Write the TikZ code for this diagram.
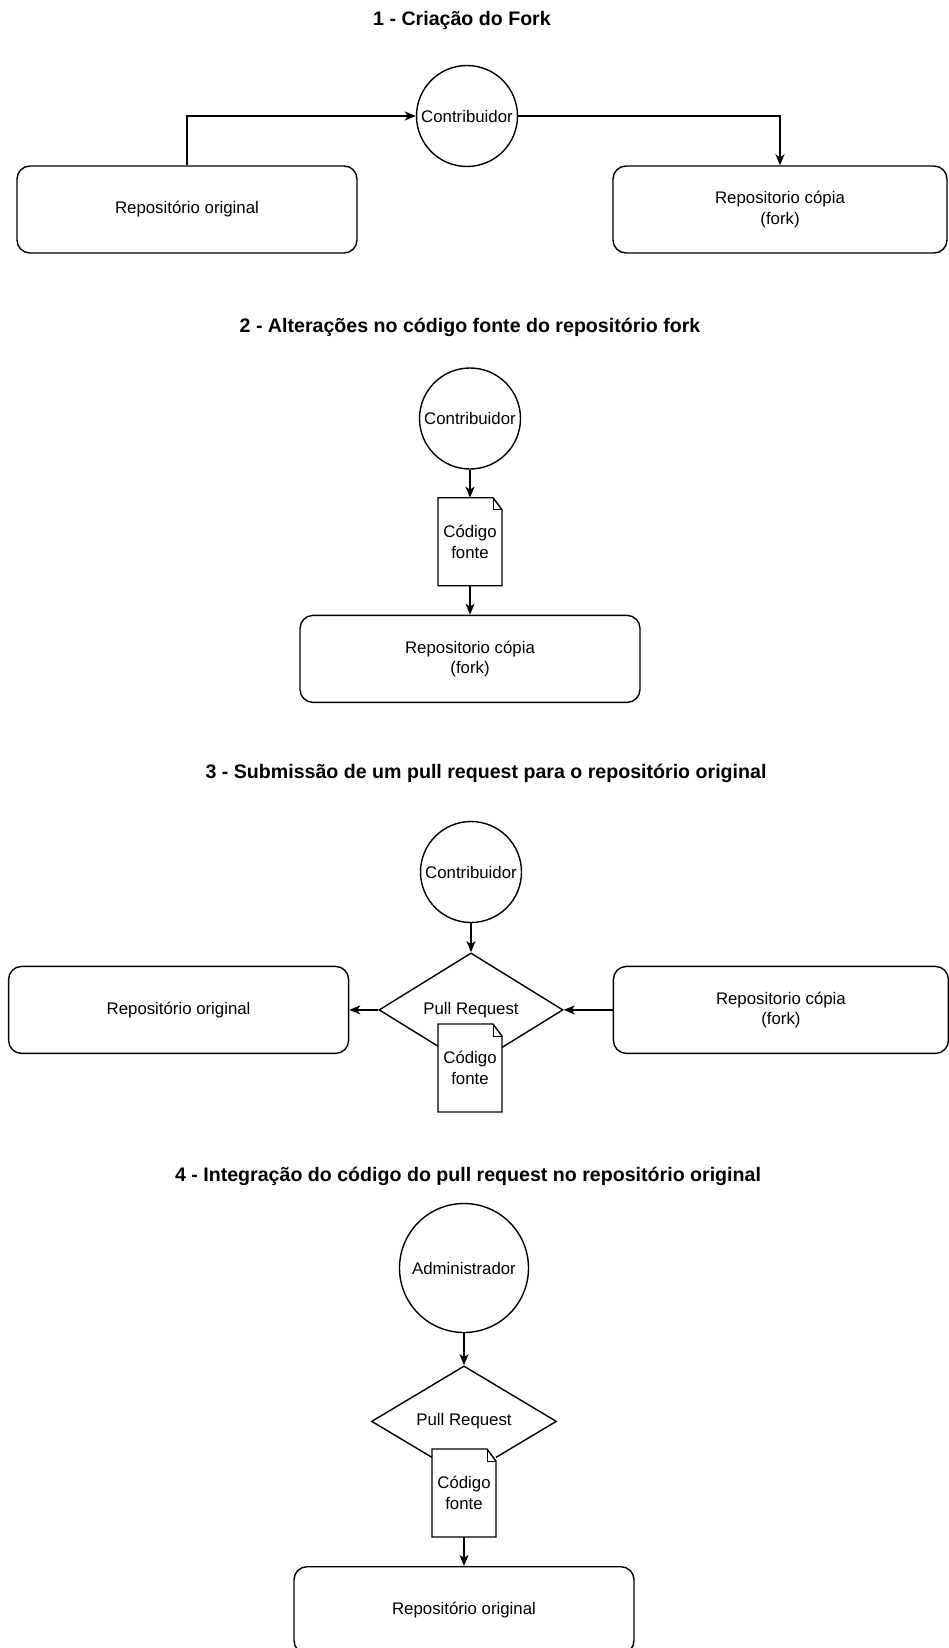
\documentclass[tikz,border=0pt]{standalone}
\usepackage{fontspec}
\setmainfont{Liberation Sans}
\usetikzlibrary{positioning,arrows.meta,shapes.geometric}

\tikzset{
  actor/.style={circle,draw,minimum size=101pt,inner sep=0pt},
  repo/.style={rectangle,draw,rounded corners=13pt,minimum width=340pt,minimum height=87pt,align=center},
  pullreq/.style={diamond,draw,minimum width=184pt,minimum height=114pt,inner sep=0pt},
  codedoc/.style={rectangle,fill=white,minimum width=64pt,minimum height=88pt,inner sep=0pt,outer sep=0pt,align=center},
  steptitle/.style={font=\bfseries\fontsize{19.6}{23}\selectfont},
}

% folded page outline round a codedoc node
\newcommand{\foldnote}[1]{%
  \draw ([xshift=-9pt]#1.north east) -- (#1.north west) -- (#1.south west)
    -- (#1.south east) -- ([yshift=-12pt]#1.north east) -- cycle;
  \draw[line width=0.9pt] ([xshift=-9pt]#1.north east) -- ([xshift=-9pt,yshift=-12pt]#1.north east)
    -- ([yshift=-12pt]#1.north east);
}

\begin{document}
\begin{tikzpicture}[x=1pt,y=-1pt,line width=1.4pt,>={Stealth[length=11pt,width=9pt,inset=3pt]},
    font=\fontsize{16.8}{20.5}\selectfont]
  \useasboundingbox (0,0) rectangle (948,1648);

  % 1 - fork
  \node[steptitle] (t1) at (462,20) {1 - Criação do Fork};
  \node[actor] (c1) at (467,116) {Contribuidor};
  \node[repo]  (orig1) at (187,209.5) {Repositório original};
  \node[repo,minimum width=334pt] (fork1) at (780,209.5) {Repositorio cópia\\(fork)};
  \draw[->] (orig1.north) |- (c1.west);
  \draw[->] (c1.east) -| (fork1.north);

  % 2 - alteracoes
  \node[steptitle] (t2) at (470,327) {2 - Alterações no código fonte do repositório fork};
  \node[actor] (c2) at (470,418.5) {Contribuidor};
  \node[codedoc] (doc2) [below=28pt of c2] {Código\\fonte};
  \foldnote{doc2}
  \node[repo] (fork2) [below=29pt of doc2] {Repositorio cópia\\(fork)};
  \draw[->] (c2) -- (doc2);
  \draw[->] (doc2) -- (fork2);

  % 3 - pull request
  \node[steptitle] (t3) at (486,773) {3 - Submissão de um pull request para o repositório original};
  \node[actor] (c3) at (471,872) {Contribuidor};
  \node[pullreq] (pr3) [below=29pt of c3] {\raisebox{2pt}{Pull Request}};
  \node[repo] (orig3) [left=29pt of pr3] {Repositório original};
  \node[repo,minimum width=335pt] (fork3) [right=49pt of pr3] {Repositorio cópia\\(fork)};
  \node[codedoc] (doc3) at (470,1068) {Código\\fonte};
  \foldnote{doc3}
  \draw[->] (c3) -- (pr3);
  \draw[->] (pr3) -- (orig3);
  \draw[->] (fork3) -- (pr3);

  % 4 - integracao
  \node[steptitle] (t4) at (468,1176) {4 - Integração do código do pull request no repositório original};
  \node[actor,minimum size=129pt] (c4) at (464,1268) {Administrador};
  \node[pullreq,minimum width=185pt,minimum height=108pt] (pr4) [below=32pt of c4] {\raisebox{2pt}{Pull Request}};
  \node[codedoc] (doc4) at (464,1493) {Código\\fonte};
  \foldnote{doc4}
  \node[repo] (orig4) [below=29pt of doc4] {Repositório original};
  \draw[->] (c4) -- (pr4);
  \draw[->] (doc4) -- (orig4);
\end{tikzpicture}
\end{document}
